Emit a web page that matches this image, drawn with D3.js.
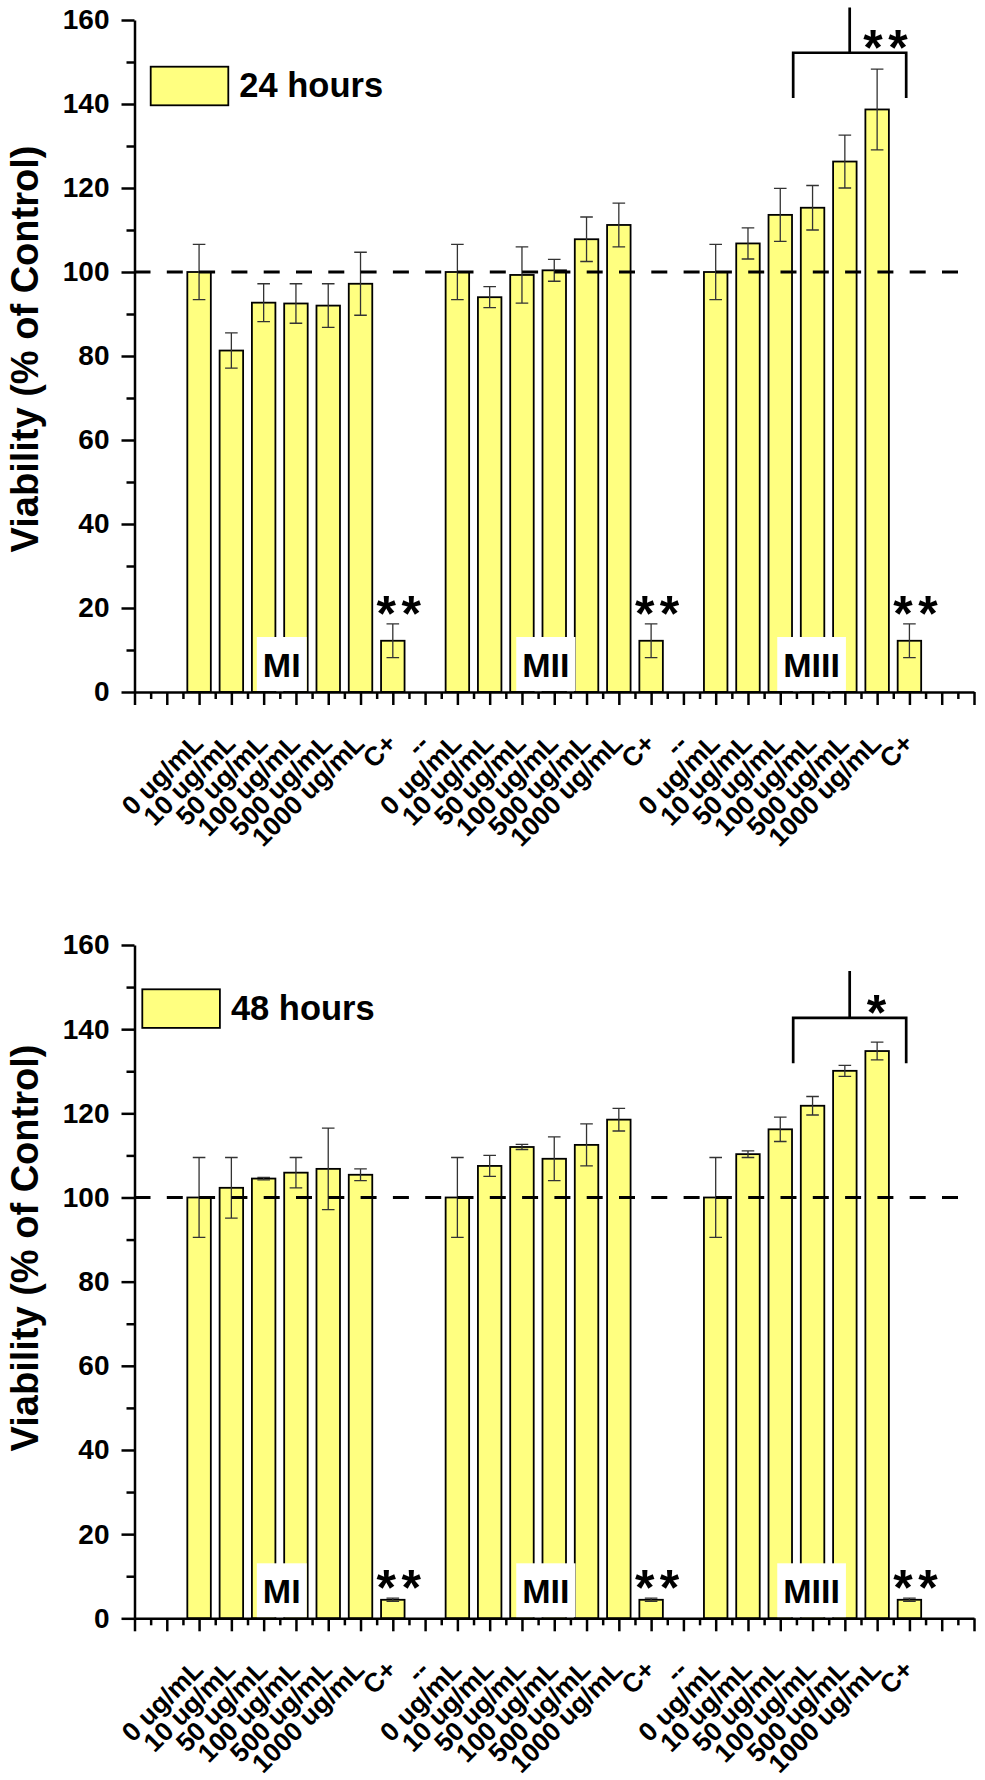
<!DOCTYPE html>
<html><head><meta charset="utf-8">
<script src="https://cdn.jsdelivr.net/npm/d3@7"></script>
<style>
body{margin:0;background:#fff}
svg{display:block}
text{font-family:"Liberation Sans",Arial,sans-serif;font-weight:bold;fill:#000}
</style>
</head><body>
<svg id="c" width="985" height="1780"></svg>
<script>
// ---------- DATA ----------
const xTickLabels = ["", "", "0 ug/mL", "10 ug/mL", "50 ug/mL", "100 ug/mL", "500 ug/mL", "1000 ug/mL", "C+", "--",
  "0 ug/mL", "10 ug/mL", "50 ug/mL", "100 ug/mL", "500 ug/mL", "1000 ug/mL", "C+", "--",
  "0 ug/mL", "10 ug/mL", "50 ug/mL", "100 ug/mL", "500 ug/mL", "1000 ug/mL", "C+", "", ""];
const groups = ["MI", "MII", "MIII"];
const groupStart = [2, 10, 18];            // category index of first bar of each group
const groupLabelPos = [4.56, 12.74, 20.97]; // category position of the group label
const yMajorTicks = [0, 20, 40, 60, 80, 100, 120, 140, 160];
const yMinorTicks = [10, 30, 50, 70, 90, 110, 130, 150];

// 24 hours
const mi24 = [100, 81.3, 92.7, 92.5, 92.0, 97.2, 12.2];
const mi24Err = [6.6, 4.2, 4.5, 4.7, 5.2, 7.5, 4.0];
const mii24 = [100, 94.0, 99.3, 100.4, 107.8, 111.2, 12.2];
const mii24Err = [6.6, 2.5, 6.7, 2.6, 5.3, 5.2, 4.0];
const miii24 = [100, 106.8, 113.6, 115.3, 126.3, 138.7, 12.2];
const miii24Err = [6.6, 3.7, 6.3, 5.3, 6.3, 9.6, 4.0];

// 48 hours
const mi48 = [100, 102.3, 104.5, 105.9, 106.8, 105.4, 4.4];
const mi48Err = [9.5, 7.2, 0.3, 3.6, 9.7, 1.4, 0.4];
const mii48 = [100, 107.5, 112.0, 109.2, 112.5, 118.5, 4.4];
const mii48Err = [9.5, 2.5, 0.6, 5.2, 5.0, 2.7, 0.4];
const miii48 = [100, 110.3, 116.2, 121.8, 130.1, 134.8, 4.4];
const miii48Err = [9.5, 0.8, 2.9, 2.2, 1.3, 2.1, 0.4];

// significance annotations (category position, value)
const bracket24 = {left: 20.4, right: 23.9, top: 152.2, legs: 141.4, stem: 163, label: "**", labelPos: 23.26, labelVal: 155.7};
const bracket48 = {left: 20.4, right: 23.9, top: 142.7, legs: 131.9, stem: 153.8, label: "*", labelPos: 22.98, labelVal: 146.3};
const cPlusStarVal24 = 20.9;
const cPlusStarVal48 = 9.6;

// ---------- DRAW ----------
const svg = d3.select("#c");
const x = d3.scaleLinear().domain([0, 26]).range([134.5, 974]);
const barW = 23.5;
const yellow = "#ffff80";

function drawChart(cfg) {
  const y = d3.scaleLinear().domain([0, 160]).range([cfg.y0, cfg.yTop]);
  const g = svg.append("g");

  const bars = [];
  cfg.series.forEach((vals, gi) => {
    vals.forEach((v, i) => bars.push({idx: groupStart[gi] + i, v, e: cfg.errs[gi][i]}));
  });

  g.selectAll("rect.bar").data(bars).join("rect")
    .attr("class", "bar")
    .attr("x", d => x(d.idx) - barW / 2)
    .attr("y", d => y(d.v))
    .attr("width", barW)
    .attr("height", d => y(0) - y(d.v))
    .attr("fill", yellow).attr("stroke", "#000").attr("stroke-width", 1.8);

  const eb = g.append("g").attr("stroke", "#333").attr("stroke-width", 1.3).attr("fill", "none");
  eb.selectAll("path").data(bars).join("path")
    .attr("d", d => {
      const cx = x(d.idx), t = y(d.v + d.e), b = y(d.v - d.e), c = 6.3;
      return `M${cx},${b}V${t}M${cx - c},${t}H${cx + c}M${cx - c},${b}H${cx + c}`;
    });

  // reference line at 100
  g.append("line")
    .attr("x1", x(0)).attr("x2", x(26))
    .attr("y1", y(100)).attr("y2", y(100))
    .attr("stroke", "#000").attr("stroke-width", 3)
    .attr("stroke-dasharray", "16 16.3");

  // group labels with white boxes
  groups.forEach((name, gi) => {
    const t = g.append("text")
      .attr("x", x(groupLabelPos[gi])).attr("y", cfg.y0 - 15)
      .attr("text-anchor", "middle").attr("font-size", 34).text(name);
    const bb = t.node().getBBox();
    g.insert("rect", () => t.node())
      .attr("x", bb.x - 6).attr("y", cfg.y0 - 55)
      .attr("width", bb.width + 12).attr("height", 54)
      .attr("fill", "#fff");
  });

  // axes
  const xAxis = g.append("g").attr("transform", `translate(0,${cfg.y0})`)
    .call(d3.axisBottom(x).tickValues(d3.range(0, 27)).tickSize(13).tickSizeOuter(0)
      .tickFormat(i => xTickLabels[i]));
  xAxis.selectAll("text")
    .attr("x", 0).attr("y", 0).attr("dy", 0)
    .attr("transform", "translate(5,53) rotate(-45)")
    .attr("text-anchor", "end").attr("font-size", 26.5);
  g.append("g").attr("transform", `translate(0,${cfg.y0})`)
    .call(d3.axisBottom(x).tickValues(d3.range(0.5, 26, 1)).tickSize(7).tickSizeOuter(0).tickFormat(""))
    .select(".domain").remove();

  const yAxis = g.append("g").attr("transform", `translate(${x(0)},0)`)
    .call(d3.axisLeft(y).tickValues(yMajorTicks).tickSize(13).tickSizeOuter(0).tickFormat(d3.format("d")));
  yAxis.selectAll("text").attr("x", -25).attr("font-size", 28);
  g.append("g").attr("transform", `translate(${x(0)},0)`)
    .call(d3.axisLeft(y).tickValues(yMinorTicks).tickSize(8).tickSizeOuter(0).tickFormat(""))
    .select(".domain").remove();

  g.selectAll(".domain, .tick line").attr("stroke", "#000").attr("stroke-width", 2.5);
  g.selectAll(".tick text").attr("fill", "#000").attr("font-family", null);

  // y title
  g.append("text")
    .attr("transform", `translate(38,${cfg.titleY}) rotate(-90)`)
    .attr("text-anchor", "middle").attr("font-size", 38)
    .text("Viability (% of Control)");

  // C+ stars
  groups.forEach((name, gi) => {
    const idx = groupStart[gi] + 6;
    g.append("text")
      .attr("x", x(idx) + 6 + 2.75).attr("y", y(cfg.cStar) + 27)
      .attr("text-anchor", "middle").attr("font-size", 50)
      .attr("letter-spacing", 5.5).text("**");
  });

  // bracket
  const br = cfg.bracket;
  g.append("path")
    .attr("d", `M${x(br.left)},${y(br.legs)}V${y(br.top)}H${x(br.right)}V${y(br.legs)}M${x((br.left + br.right) / 2)},${y(br.top)}V${y(br.stem)}`)
    .attr("fill", "none").attr("stroke", "#000").attr("stroke-width", 2.7);
  g.append("text")
    .attr("x", x(br.labelPos) + (br.label.length > 1 ? 2.75 : 0)).attr("y", y(br.labelVal) + 27)
    .attr("text-anchor", "middle").attr("font-size", 50)
    .attr("letter-spacing", br.label.length > 1 ? 5.5 : 0).text(br.label);

  // legend
  g.append("rect")
    .attr("x", cfg.legX).attr("y", cfg.legY).attr("width", 77.6).attr("height", 38.6)
    .attr("fill", yellow).attr("stroke", "#000").attr("stroke-width", 1.8);
  g.append("text")
    .attr("x", cfg.legX + 88.6).attr("y", cfg.legY + 30.6)
    .attr("font-size", 34.5).text(cfg.legend);
}

drawChart({y0: 692, yTop: 20, series: [mi24, mii24, miii24], errs: [mi24Err, mii24Err, miii24Err],
  bracket: bracket24, cStar: cPlusStarVal24, legend: "24 hours", legX: 150.7, legY: 66.7, titleY: 349});
drawChart({y0: 1618.3, yTop: 945, series: [mi48, mii48, miii48], errs: [mi48Err, mii48Err, miii48Err],
  bracket: bracket48, cStar: cPlusStarVal48, legend: "48 hours", legX: 142.3, legY: 989.3, titleY: 1248});
</script>
</body></html>
